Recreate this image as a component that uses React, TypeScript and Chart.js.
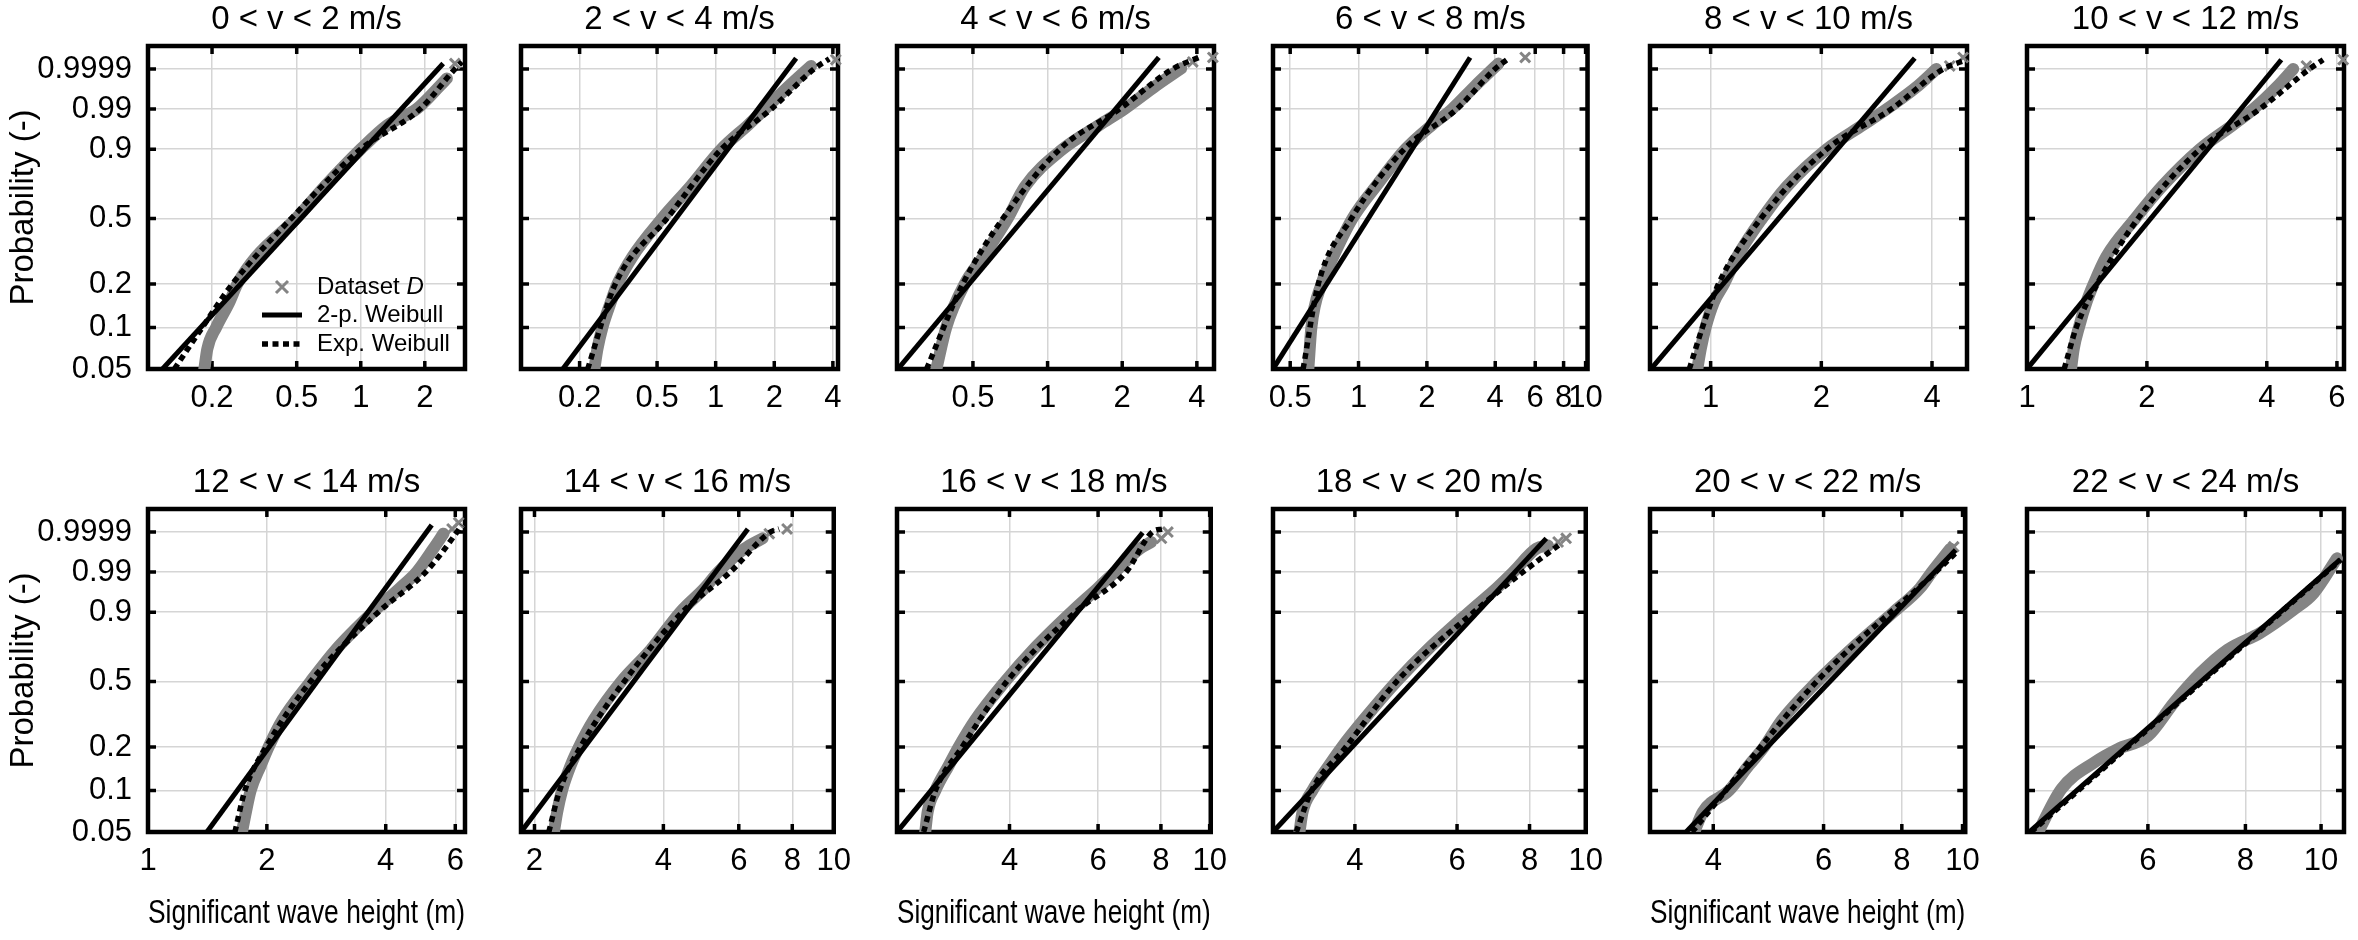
import { useEffect, useRef } from "react";
import { Chart, registerables } from "chart.js";
Chart.register(...registerables);

const FONT = "'Liberation Sans', Arial, Helvetica, sans-serif";
const GRAY = "#848484";
const GRID = "#d5d5d5";

// panel titles (row by row)
const panelTitles = [
  "0 < v < 2 m/s", "2 < v < 4 m/s", "4 < v < 6 m/s", "6 < v < 8 m/s",
  "8 < v < 10 m/s", "10 < v < 12 m/s", "12 < v < 14 m/s", "14 < v < 16 m/s",
  "16 < v < 18 m/s", "18 < v < 20 m/s", "20 < v < 22 m/s", "22 < v < 24 m/s",
];

// x axis (significant wave height, log scale)
const xMin = [0.1, 0.1, 0.247, 0.42, 0.684, 1.0, 1.0, 1.86, 2.39, 2.89, 3.17, 4.23];
const xMax = [3.09, 4.25, 4.69, 10.2, 4.98, 6.25, 6.35, 10.0, 10.05, 10.0, 10.1, 10.7];
const xTicks = [
  [0.2, 0.5, 1, 2],
  [0.2, 0.5, 1, 2, 4],
  [0.5, 1, 2, 4],
  [0.5, 1, 2, 4, 6, 8, 10],
  [1, 2, 4],
  [1, 2, 4, 6],
  [1, 2, 4, 6],
  [2, 4, 6, 8, 10],
  [4, 6, 8, 10],
  [4, 6, 8, 10],
  [4, 6, 8, 10],
  [6, 8, 10],
];

// y axis (Weibull probability scale)
const probTicks = [0.05, 0.1, 0.2, 0.5, 0.9, 0.99, 0.9999];
const probTickLabels = ["0.05", "0.1", "0.2", "0.5", "0.9", "0.99", "0.9999"];
const probBottom = 0.05;
const probTop = 0.9999989;

// Dataset D, dense part (drawn as a band)
const bandH = [
  [0.184, 0.19, 0.209, 0.241, 0.263, 0.322, 0.497, 0.676, 1.0, 1.34, 1.83, 2.36, 2.54],
  [0.238, 0.247, 0.262, 0.289, 0.313, 0.373, 0.53, 0.74, 1.07, 1.47, 1.79, 2.39, 3.09],
  [0.356, 0.39, 0.463, 0.549, 0.69, 0.81, 1.15, 1.62, 2.04, 2.74, 3.46],
  [0.601, 0.62, 0.687, 0.773, 0.94, 1.19, 1.61, 2.11, 2.58, 3.27, 4.13],
  [0.92, 0.94, 0.969, 1.02, 1.087, 1.18, 1.38, 1.61, 2.07, 2.6, 3.01, 3.67, 4.11],
  [1.29, 1.31, 1.35, 1.41, 1.47, 1.58, 1.87, 2.18, 2.72, 3.29, 3.7, 4.27, 4.66],
  [1.73, 1.77, 1.82, 1.93, 2.02, 2.19, 2.58, 2.99, 3.71, 4.35, 4.79, 5.28, 5.6],
  [2.22, 2.26, 2.32, 2.43, 2.54, 2.75, 3.19, 3.74, 4.38, 5.0, 5.37, 6.19, 6.82],
  [2.72, 2.75, 2.85, 3.03, 3.17, 3.42, 3.92, 4.46, 5.31, 6.0, 6.48, 7.26, 7.65],
  [3.21, 3.25, 3.38, 3.61, 3.8, 4.14, 4.72, 5.34, 6.29, 7.03, 7.5, 8.22, 8.61],
  [3.73, 3.85, 4.24, 4.56, 4.82, 5.15, 5.86, 6.63, 7.76, 8.56, 8.93, 9.56],
  [4.34, 4.65, 5.13, 5.49, 6.0, 6.48, 7.01, 7.59, 8.36, 9.22, 9.78, 10.48],
];
const bandP = [
  [0.05, 0.07, 0.1, 0.15, 0.2, 0.3, 0.5, 0.7, 0.9, 0.97, 0.99, 0.999, 0.9996],
  [0.05, 0.07, 0.1, 0.15, 0.2, 0.3, 0.5, 0.7, 0.9, 0.97, 0.99, 0.999, 0.99994],
  [0.05, 0.1, 0.2, 0.3, 0.5, 0.7, 0.9, 0.97, 0.99, 0.999, 0.99991],
  [0.05, 0.1, 0.2, 0.3, 0.5, 0.7, 0.9, 0.97, 0.99, 0.999, 0.99996],
  [0.05, 0.07, 0.1, 0.15, 0.2, 0.3, 0.5, 0.7, 0.9, 0.97, 0.99, 0.999, 0.9999],
  [0.05, 0.07, 0.1, 0.15, 0.2, 0.3, 0.5, 0.7, 0.9, 0.97, 0.99, 0.999, 0.9999],
  [0.05, 0.07, 0.1, 0.15, 0.2, 0.3, 0.5, 0.7, 0.9, 0.97, 0.99, 0.999, 0.99987],
  [0.05, 0.07, 0.1, 0.15, 0.2, 0.3, 0.5, 0.7, 0.9, 0.97, 0.99, 0.999, 0.99974],
  [0.05, 0.07, 0.1, 0.15, 0.2, 0.3, 0.5, 0.7, 0.9, 0.97, 0.99, 0.999, 0.99957],
  [0.05, 0.07, 0.1, 0.15, 0.2, 0.3, 0.5, 0.7, 0.9, 0.97, 0.99, 0.999, 0.99931],
  [0.05, 0.07, 0.1, 0.15, 0.2, 0.3, 0.5, 0.7, 0.9, 0.97, 0.99, 0.999],
  [0.05, 0.1025, 0.158, 0.194, 0.237, 0.382, 0.553, 0.7, 0.8, 0.909, 0.959, 0.9971],
];

// Dataset D, isolated largest values
const tailH = [[2.77], [4.14], [3.85, 4.64], [5.42], [4.47, 4.86], [5.03, 6.22], [5.89, 6.12], [7.07, 7.78], [8.02, 8.26], [8.96, 9.25], [9.68], []];
const tailP = [[0.99996], [0.99998], [0.99997, 0.999987], [0.999987], [0.99994, 0.999987], [0.99994, 0.99998], [0.99994, 0.99998], [0.99987, 0.99994], [0.99974, 0.9999], [0.99957, 0.99974], [0.9992], []];

// 2-parameter Weibull fit (straight on this paper)
const weib2H = [[0.117, 2.44], [0.164, 2.59], [0.249, 2.81], [0.42, 3.1], [0.688, 3.59], [1.0, 4.35], [1.41, 5.23], [1.86, 6.3], [2.39, 7.36], [2.89, 8.55], [3.62, 9.75], [4.23, 10.57]];
const weib2P = [[0.05, 0.99996], [0.05, 0.999985], [0.05, 0.999987], [0.05, 0.999987], [0.05, 0.999985], [0.05, 0.99998], [0.05, 0.99997], [0.05, 0.99994], [0.05, 0.99989], [0.05, 0.99974], [0.05, 0.99882], [0.05, 0.9966]];

// exponentiated Weibull fit
const expH = [
  [0.133, 0.18, 0.249, 0.471, 1.0, 1.9, 2.77, 2.99],
  [0.22, 0.305, 0.562, 1.07, 1.93, 3.2, 3.83],
  [0.325, 0.455, 0.66, 1.12, 1.95, 3.19, 4.07],
  [0.57, 0.665, 0.93, 1.59, 2.71, 3.99, 4.64],
  [0.875, 0.95, 1.05, 1.37, 2.07, 3.1, 4.29, 4.97],
  [1.24, 1.33, 1.5, 1.9, 2.72, 3.84, 5.12, 5.54],
  [1.66, 1.76, 1.99, 2.58, 3.83, 5.05, 6.06, 6.23],
  [2.16, 2.29, 2.56, 3.24, 4.43, 5.73, 7.11, 7.45],
  [2.7, 2.85, 3.22, 3.95, 5.41, 6.82, 7.69, 8.07],
  [3.17, 3.37, 3.86, 4.72, 6.41, 7.79, 9.06],
  [3.7, 5.85, 9.06, 9.8],
  [4.25, 10.6],
];
const expP = [
  [0.05, 0.1, 0.2, 0.5, 0.9, 0.99, 0.9999, 0.99997],
  [0.05, 0.2, 0.5, 0.9, 0.99, 0.9999, 0.999983],
  [0.05, 0.2, 0.5, 0.9, 0.99, 0.9999, 0.999987],
  [0.05, 0.2, 0.5, 0.9, 0.99, 0.9999, 0.999987],
  [0.05, 0.1, 0.2, 0.5, 0.9, 0.99, 0.9999, 0.99998],
  [0.05, 0.1, 0.2, 0.5, 0.9, 0.99, 0.9999, 0.99998],
  [0.05, 0.1, 0.2, 0.5, 0.9, 0.99, 0.9999, 0.99997],
  [0.05, 0.1, 0.2, 0.5, 0.9, 0.99, 0.9999, 0.99994],
  [0.05, 0.1, 0.2, 0.5, 0.9, 0.99, 0.9999, 0.99994],
  [0.05, 0.1, 0.2, 0.5, 0.9, 0.99, 0.99947],
  [0.05, 0.5, 0.99, 0.99858],
  [0.05, 0.9967],
];

const legendLabels = ["Dataset ", "2-p. Weibull", "Exp. Weibull"];

// layout of the 2x6 grid
const colLeft = [148, 521, 897, 1273, 1650, 2027];
const rowTop = [46, 509];
const plotW = 317;
const plotH = 323;
const padL = 148;
const padT = 46;
const padR = 24;
const padB = 110;

// Weibull probability paper transform
const wb = (p: number) => Math.log(-Math.log(1 - p));

const toPts = (h: number[], p: number[]) => h.map((v, k) => ({ x: v, y: wb(p[k]) }));

const framePlugin = {
  id: "frame",
  beforeDatasetsDraw(chart: any) {
    const { ctx, chartArea: a, scales } = chart;
    const tl = 8;
    ctx.save();
    ctx.strokeStyle = "#000";
    ctx.lineWidth = 3.5;
    ctx.beginPath();
    scales.x.ticks.forEach((t: any) => {
      const x = scales.x.getPixelForValue(t.value);
      ctx.moveTo(x, a.top);
      ctx.lineTo(x, a.top + tl);
      ctx.moveTo(x, a.bottom);
      ctx.lineTo(x, a.bottom - tl);
    });
    scales.y.ticks.forEach((t: any) => {
      const y = scales.y.getPixelForValue(t.value);
      ctx.moveTo(a.left, y);
      ctx.lineTo(a.left + tl, y);
      ctx.moveTo(a.right, y);
      ctx.lineTo(a.right - tl, y);
    });
    ctx.stroke();
    ctx.lineWidth = 4.5;
    ctx.strokeRect(a.left, a.top, a.right - a.left, a.bottom - a.top);
    ctx.restore();
  },
};

const insideLegendPlugin = {
  id: "insideLegend",
  afterDatasetsDraw(chart: any, _args: any, opts: any) {
    if (!opts || !opts.show) return;
    const { ctx, chartArea: a } = chart;
    const rows = [241, 269, 298].map((d) => a.top + d);
    const lx0 = a.left + 114;
    const lx1 = a.left + 154;
    const tx = a.left + 169;
    ctx.save();
    // marker
    const mx = a.left + 134;
    ctx.strokeStyle = GRAY;
    ctx.lineWidth = 3;
    ctx.beginPath();
    ctx.moveTo(mx - 6, rows[0] - 6);
    ctx.lineTo(mx + 6, rows[0] + 6);
    ctx.moveTo(mx - 6, rows[0] + 6);
    ctx.lineTo(mx + 6, rows[0] - 6);
    ctx.stroke();
    // solid line
    ctx.strokeStyle = "#000";
    ctx.lineWidth = 5;
    ctx.beginPath();
    ctx.moveTo(lx0, rows[1]);
    ctx.lineTo(lx1, rows[1]);
    ctx.stroke();
    // dotted line
    ctx.lineWidth = 5.5;
    ctx.setLineDash([6, 4.5]);
    ctx.beginPath();
    ctx.moveTo(lx0, rows[2]);
    ctx.lineTo(lx1, rows[2]);
    ctx.stroke();
    ctx.setLineDash([]);
    // texts
    ctx.fillStyle = "#000";
    ctx.textBaseline = "middle";
    ctx.textAlign = "left";
    ctx.font = `24px ${FONT}`;
    ctx.fillText(legendLabels[0], tx, rows[0]);
    const w = ctx.measureText(legendLabels[0]).width;
    ctx.font = `italic 24px ${FONT}`;
    ctx.fillText("D", tx + w, rows[0]);
    ctx.font = `24px ${FONT}`;
    ctx.fillText(legendLabels[1], tx, rows[1]);
    ctx.fillText(legendLabels[2], tx, rows[2]);
    ctx.restore();
  },
};

const Panel = ({ idx }: { idx: number }) => {
  const canvasRef = useRef<HTMLCanvasElement>(null);
  const chartRef = useRef<Chart | null>(null);
  const row = Math.floor(idx / 6);
  const col = idx % 6;
  const w = padL + plotW + padR;
  const h = padT + plotH + padB;

  useEffect(() => {
    if (!canvasRef.current) return;
    if (chartRef.current) chartRef.current.destroy();

    const showXTitle = row === 1 && col % 2 === 0;

    chartRef.current = new Chart(canvasRef.current, {
      type: "line",
      data: {
        datasets: [
          {
            label: "Exp. Weibull",
            data: toPts(expH[idx], expP[idx]),
            borderColor: "#000",
            borderWidth: 5.5,
            borderDash: [6, 4.5],
            pointRadius: 0,
            cubicInterpolationMode: "monotone",
            fill: false,
          },
          {
            label: "2-p. Weibull",
            data: toPts(weib2H[idx], weib2P[idx]),
            borderColor: "#000",
            borderWidth: 5,
            pointRadius: 0,
            fill: false,
          },
          {
            label: "Dataset D",
            data: toPts(tailH[idx], tailP[idx]),
            showLine: false,
            pointStyle: "crossRot",
            pointRadius: 7,
            pointBorderWidth: 3,
            pointBorderColor: GRAY,
            borderColor: GRAY,
            clip: false,
          },
          {
            label: "Dataset D",
            data: toPts(bandH[idx], bandP[idx]),
            borderColor: GRAY,
            borderWidth: 12,
            borderCapStyle: "round",
            borderJoinStyle: "round",
            pointRadius: 0,
            cubicInterpolationMode: "monotone",
            fill: false,
          },
        ],
      } as any,
      options: {
        animation: false,
        responsive: false,
        devicePixelRatio: 1,
        events: [],
        layout: { padding: { left: 0, right: padR, top: 0, bottom: 0 } },
        plugins: {
          legend: { display: false },
          tooltip: { enabled: false },
          title: {
            display: true,
            fullSize: false,
            text: panelTitles[idx],
            color: "#000",
            font: { family: FONT, size: 33, weight: "normal", lineHeight: 1.2 },
            padding: { top: 0, bottom: padT - 33 * 1.2 },
          },
          insideLegend: { show: idx === 0 },
        } as any,
        scales: {
          x: {
            type: "logarithmic",
            min: xMin[idx],
            max: xMax[idx],
            afterBuildTicks: (s: any) => {
              s.ticks = xTicks[idx].map((v) => ({ value: v }));
            },
            afterFit: (s: any) => {
              s.height = padB;
            },
            ticks: {
              autoSkip: false,
              maxRotation: 0,
              minRotation: 0,
              color: "#000",
              padding: 11,
              font: { family: FONT, size: 31 },
              callback: (v: any) => String(v),
            },
            grid: { color: GRID, lineWidth: 1.5, drawTicks: false },
            border: { display: false },
            title: {
              display: showXTitle,
              text: "Significant wave height (m)",
              color: "#000",
              font: { family: FONT, size: 33 },
              padding: { top: 0, bottom: 8 },
            },
          },
          y: {
            type: "linear",
            min: wb(probBottom),
            max: wb(probTop),
            afterBuildTicks: (s: any) => {
              s.ticks = probTicks.map((p) => ({ value: wb(p) }));
            },
            afterFit: (s: any) => {
              s.width = padL;
            },
            ticks: {
              display: col === 0,
              autoSkip: false,
              color: "#000",
              padding: 16,
              font: { family: FONT, size: 31 },
              callback: (_v: any, k: number) => probTickLabels[k],
            },
            grid: { color: GRID, lineWidth: 1.5, drawTicks: false },
            border: { display: false },
            title: {
              display: col === 0,
              text: "Probability (-)",
              color: "#000",
              font: { family: FONT, size: 33 },
              padding: { top: 4, bottom: 0 },
            },
          },
        } as any,
      },
      plugins: [framePlugin, insideLegendPlugin],
    });

    return () => {
      chartRef.current?.destroy();
      chartRef.current = null;
    };
  }, [idx, row, col]);

  return (
    <canvas
      ref={canvasRef}
      width={w}
      height={h}
      style={{
        position: "absolute",
        left: colLeft[col] - padL,
        top: rowTop[row] - padT,
        width: w,
        height: h,
      }}
    />
  );
};

export default function App() {
  return (
    <div
      style={{
        position: "absolute",
        left: 0,
        top: 0,
        width: 2358,
        height: 940,
        overflow: "hidden",
        background: "#fff",
      }}
    >
      {panelTitles.map((_, i) => (
        <Panel key={i} idx={i} />
      ))}
    </div>
  );
}
